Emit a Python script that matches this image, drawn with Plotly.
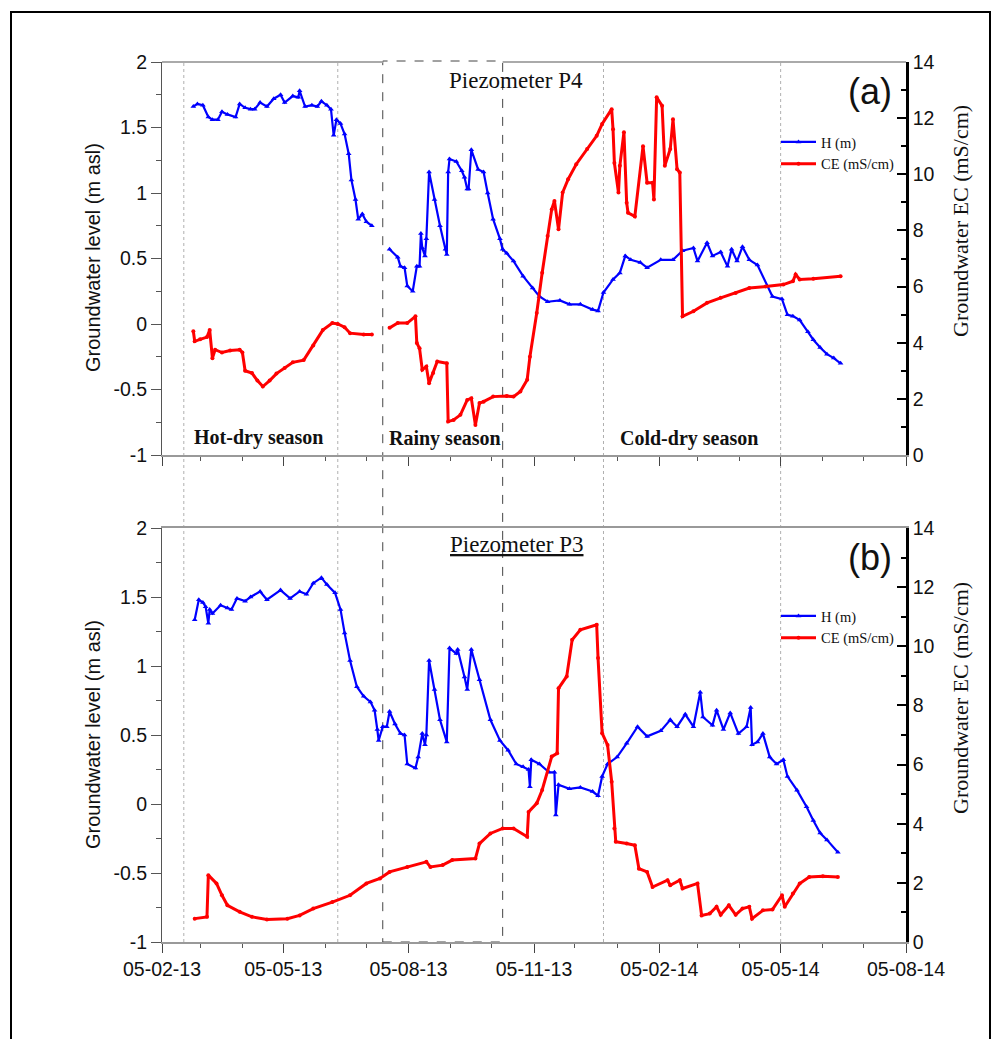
import plotly.graph_objects as go

# ---------------- data ----------------
p4_h_dates = ["2013-02-28","2013-03-03","2013-03-07","2013-03-11","2013-03-14","2013-03-18","2013-03-21","2013-03-25","2013-03-31","2013-04-03",
              "2013-04-07","2013-04-11","2013-04-14","2013-04-18","2013-04-23","2013-04-28","2013-05-03","2013-05-06","2013-05-12","2013-05-16",
              "2013-05-17","2013-05-21","2013-05-26","2013-05-30","2013-06-02","2013-06-06","2013-06-09","2013-06-11","2013-06-13","2013-06-16",
              "2013-06-19","2013-06-22","2013-06-24","2013-06-27","2013-06-29","2013-07-02","2013-07-05","2013-07-09",
              "2013-07-15",
              "2013-07-22","2013-07-28","2013-07-30","2013-08-02","2013-08-04","2013-08-08","2013-08-11","2013-08-13","2013-08-14","2013-08-15",
              "2013-08-17","2013-08-18","2013-08-20","2013-08-24","2013-08-28","2013-09-01","2013-09-02","2013-09-03","2013-09-04","2013-09-09",
              "2013-09-13","2013-09-15","2013-09-17","2013-09-18","2013-09-20","2013-09-25","2013-09-29","2013-10-02","2013-10-06","2013-10-11",
              "2013-10-13","2013-10-16","2013-10-21","2013-10-28","2013-11-04","2013-11-09","2013-11-15","2013-11-24","2013-12-01","2013-12-09",
              "2013-12-18","2013-12-22","2013-12-26","2014-01-02","2014-01-07","2014-01-11","2014-01-15","2014-01-22","2014-01-27","2014-02-06",
              "2014-02-15","2014-02-22","2014-03-02","2014-03-05","2014-03-12","2014-03-16","2014-03-22","2014-03-27","2014-03-30","2014-04-03",
              "2014-04-07","2014-04-12","2014-04-18","2014-04-25","2014-04-29","2014-05-06","2014-05-10","2014-05-14","2014-05-19","2014-05-25",
              "2014-05-29","2014-06-03","2014-06-08","2014-06-13","2014-06-18"]
p4_h_values = [1.66,1.68,1.67,1.58,1.56,1.56,1.62,1.60,1.58,1.68,
               1.65,1.64,1.64,1.69,1.66,1.72,1.75,1.69,1.74,1.73,
               1.78,1.66,1.67,1.66,1.70,1.67,1.64,1.44,1.56,1.53,
               1.45,1.30,1.10,0.95,0.80,0.84,0.78,0.75,
               None,
               0.57,0.51,0.44,0.43,0.29,0.25,0.44,0.44,0.69,0.58,
               0.52,0.65,1.16,0.95,0.75,0.57,0.53,1.16,1.26,1.24,
               1.17,1.12,1.03,1.03,1.33,1.18,1.16,1.00,0.80,0.65,
               0.57,0.54,0.48,0.365,0.275,0.21,0.17,0.18,0.15,0.15,
               0.11,0.10,0.24,0.34,0.39,0.52,0.49,0.47,0.43,0.49,
               0.49,0.56,0.58,0.48,0.62,0.52,0.55,0.44,0.57,0.48,
               0.59,0.49,0.45,0.29,0.21,0.19,0.07,0.06,0.03,-0.06,
               -0.12,-0.18,-0.23,-0.26,-0.30]

p4_ce_dates = ["2013-02-28","2013-03-01","2013-03-05","2013-03-10","2013-03-12","2013-03-14","2013-03-16","2013-03-21","2013-03-27","2013-04-03",
               "2013-04-05","2013-04-07","2013-04-12","2013-04-16","2013-04-20","2013-04-25","2013-04-30","2013-05-06","2013-05-12","2013-05-20",
               "2013-05-27","2013-06-03","2013-06-10","2013-06-14","2013-06-19","2013-06-23","2013-07-03","2013-07-09",
               "2013-07-15",
               "2013-07-22","2013-07-28","2013-08-04","2013-08-10","2013-08-11","2013-08-13","2013-08-15","2013-08-18","2013-08-20","2013-08-23",
               "2013-08-26","2013-09-02","2013-09-03","2013-09-07","2013-09-12","2013-09-17","2013-09-20","2013-09-23","2013-09-26","2013-09-29",
               "2013-10-06","2013-10-16","2013-10-21","2013-10-26","2013-10-31","2013-11-02","2013-11-07","2013-11-11","2013-11-15","2013-11-18",
               "2013-11-20","2013-11-23","2013-11-26","2013-11-30","2013-12-06","2013-12-14","2013-12-21","2013-12-25","2014-01-01","2014-01-02",
               "2014-01-03","2014-01-06","2014-01-07","2014-01-10","2014-01-12","2014-01-13","2014-01-18","2014-01-24","2014-01-27","2014-01-31",
               "2014-02-01","2014-02-03","2014-02-07","2014-02-09","2014-02-13","2014-02-15","2014-02-18","2014-02-20","2014-02-22","2014-03-02",
               "2014-03-12","2014-03-22","2014-04-02","2014-04-12","2014-04-24","2014-05-07","2014-05-14","2014-05-16","2014-05-19","2014-05-29",
               "2014-06-18"]
p4_ce_values = [4.41,4.05,4.12,4.20,4.45,3.45,3.75,3.65,3.72,3.75,
                3.65,3.00,2.92,2.65,2.44,2.65,2.90,3.10,3.30,3.38,
                3.90,4.45,4.70,4.67,4.55,4.34,4.29,4.29,
                None,
                4.53,4.70,4.70,4.94,3.99,3.80,3.04,3.15,2.56,2.92,
                3.33,3.27,1.19,1.25,1.43,1.96,2.02,1.07,1.85,1.90,
                2.08,2.10,2.08,2.26,2.68,3.50,5.06,6.49,7.80,8.75,
                9.05,8.04,9.35,9.82,10.36,10.90,11.37,11.79,12.32,11.60,
                10.40,9.35,10.30,11.50,8.99,8.63,8.50,11.00,9.70,9.70,
                9.10,12.74,12.44,10.30,10.90,11.96,10.18,10.06,4.94,5.12,
                5.42,5.60,5.77,5.95,6.00,6.07,6.19,6.43,6.25,6.28,
                6.37]

p3_h_dates = ["2013-03-01","2013-03-04","2013-03-07","2013-03-09","2013-03-11","2013-03-12","2013-03-14","2013-03-20","2013-03-25","2013-03-28",
              "2013-04-01","2013-04-07","2013-04-11","2013-04-18","2013-04-23","2013-05-03","2013-05-10","2013-05-17","2013-05-22","2013-05-27",
              "2013-06-02","2013-06-06","2013-06-12","2013-06-16","2013-06-19","2013-06-23","2013-06-28","2013-07-03","2013-07-08","2013-07-11",
              "2013-07-13","2013-07-14","2013-07-17","2013-07-20","2013-07-22","2013-07-26","2013-07-30","2013-08-02","2013-08-04","2013-08-10",
              "2013-08-12","2013-08-15","2013-08-17","2013-08-18","2013-08-20","2013-08-24","2013-08-28","2013-09-02","2013-09-04","2013-09-09",
              "2013-09-10","2013-09-15","2013-09-17","2013-09-20","2013-09-26","2013-10-04","2013-10-11","2013-10-17","2013-10-23","2013-10-28",
              "2013-11-01","2013-11-02","2013-11-03","2013-11-09","2013-11-16","2013-11-20","2013-11-21","2013-11-23","2013-12-01","2013-12-09",
              "2013-12-18","2013-12-22","2013-12-25","2013-12-29","2014-01-05","2014-01-12","2014-01-20","2014-01-27","2014-02-06","2014-02-13",
              "2014-02-18","2014-02-24","2014-03-02","2014-03-07","2014-03-09","2014-03-16","2014-03-19","2014-03-24","2014-03-29","2014-04-04",
              "2014-04-10","2014-04-13","2014-04-14","2014-04-18","2014-04-22","2014-04-27","2014-05-02","2014-05-07","2014-05-10","2014-05-17",
              "2014-05-24","2014-05-29","2014-06-03","2014-06-08","2014-06-16"]
p3_h_values = [1.335,1.48,1.46,1.43,1.31,1.41,1.38,1.44,1.42,1.41,
               1.49,1.47,1.50,1.54,1.48,1.55,1.49,1.54,1.52,1.60,
               1.64,1.59,1.53,1.41,1.24,1.04,0.85,0.78,0.74,0.68,
               0.54,0.46,0.56,0.56,0.67,0.58,0.51,0.50,0.29,0.26,
               0.34,0.51,0.43,0.50,1.04,0.83,0.61,0.45,1.13,1.09,
               1.12,0.92,0.83,1.12,0.90,0.61,0.46,0.39,0.29,0.27,
               0.25,0.125,0.32,0.29,0.23,0.23,-0.08,0.14,0.11,0.12,
               0.09,0.06,0.20,0.29,0.34,0.44,0.56,0.49,0.53,0.61,
               0.56,0.65,0.56,0.81,0.63,0.57,0.68,0.54,0.66,0.51,
               0.56,0.70,0.43,0.45,0.51,0.34,0.29,0.32,0.20,0.10,
               -0.02,-0.12,-0.21,-0.26,-0.35]

p3_ce_dates = ["2013-03-01","2013-03-10","2013-03-11","2013-03-17","2013-03-21","2013-03-25","2013-04-03","2013-04-12","2013-04-23","2013-05-08",
               "2013-05-17","2013-05-27","2013-06-10","2013-06-23","2013-07-05","2013-07-15","2013-07-22","2013-08-04","2013-08-18","2013-08-21",
               "2013-08-30","2013-09-06","2013-09-23","2013-09-26","2013-10-04","2013-10-13","2013-10-21","2013-10-31","2013-11-01","2013-11-07",
               "2013-11-11","2013-11-18","2013-11-22","2013-11-23","2013-11-29","2013-12-03","2013-12-09","2013-12-21","2013-12-22","2013-12-25",
               "2013-12-29","2014-01-01","2014-01-03","2014-01-04","2014-01-12","2014-01-18","2014-01-21","2014-01-27","2014-01-31","2014-02-11",
               "2014-02-13","2014-02-20","2014-02-22","2014-03-05","2014-03-08","2014-03-14","2014-03-19","2014-03-22","2014-03-28","2014-04-02",
               "2014-04-07","2014-04-12","2014-04-14","2014-04-22","2014-04-29","2014-05-06","2014-05-08","2014-05-14","2014-05-19","2014-05-26",
               "2014-06-05","2014-06-16"]
p3_ce_values = [0.79,0.85,2.26,1.98,1.58,1.24,1.02,0.85,0.76,0.79,
                0.90,1.13,1.35,1.58,1.98,2.15,2.37,2.54,2.71,2.54,
                2.60,2.77,2.82,3.33,3.67,3.84,3.84,3.56,4.40,4.69,
                5.14,6.27,6.38,8.58,8.98,10.22,10.56,10.73,9.60,7.06,
                6.66,5.42,3.84,3.39,3.33,3.27,2.48,2.37,1.86,2.09,
                1.92,2.09,1.81,1.98,0.90,0.96,1.19,0.92,1.24,0.92,
                1.13,1.19,0.79,1.07,1.10,1.58,1.19,1.64,1.98,2.20,
                2.22,2.20]

x_range = ["2013-02-05", "2014-08-05"]
h_tickvals = [-1, -0.5, 0, 0.5, 1, 1.5, 2]
h_ticktext = ["-1", "-0.5", "0", "0.5", "1", "1.5", "2"]
ec_tickvals = [0, 2, 4, 6, 8, 10, 12, 14]
ec_ticktext = ["0", "2", "4", "6", "8", "10", "12", "14"]
season_lines = ["2013-02-21", "2013-06-14", "2013-12-26", "2014-05-05"]
rainy_box = ["2013-07-17", "2013-10-13"]

# ---------------- layout helpers ----------------
W, H = 992, 1039
L, R, T, B = 162, 906, 62, 942


def pxx(px):
    return (px - L) / (R - L)


def pxy(py):
    return (B - py) / (B - T)


top_dom = [pxy(455), 1.0]
bot_dom = [0.0, pxy(528)]

BLUE = "#0000ff"
RED = "#ff0000"
SANS = "Liberation Sans"
SERIF = "Liberation Serif"

fig = go.Figure()


def add_pair(hd, hv, cd, cv, xa, ya, ya2, leg):
    fig.add_trace(go.Scatter(x=hd, y=hv, name="H (m)", mode="lines+markers",
                             line=dict(color=BLUE, width=2.2),
                             marker=dict(symbol="triangle-up", size=5, color=BLUE),
                             xaxis=xa, yaxis=ya, legend=leg, connectgaps=False))
    fig.add_trace(go.Scatter(x=cd, y=cv, name="CE (mS/cm)", mode="lines+markers",
                             line=dict(color=RED, width=3),
                             marker=dict(symbol="circle", size=4, color=RED),
                             xaxis=xa, yaxis=ya2, legend=leg, connectgaps=False))


add_pair(p4_h_dates, p4_h_values, p4_ce_dates, p4_ce_values, "x", "y", "y2", "legend")
add_pair(p3_h_dates, p3_h_values, p3_ce_dates, p3_ce_values, "x2", "y3", "y4", "legend2")

tickfont = dict(family=SANS, size=19.5, color="#111")

xcommon = dict(type="date", range=x_range, tick0=x_range[0], dtick="M3", tickformat="%d-%m-%y",
               ticks="outside", ticklen=9, tickwidth=1.3, tickcolor="#444",
               showline=True, linecolor="#999", linewidth=2, showgrid=False, zeroline=False,
               minor=dict(tick0=x_range[0], dtick="M1", ticks="outside", ticklen=4, tickwidth=1,
                          tickcolor="#555", showgrid=False),
               tickfont=tickfont)

yleft = dict(range=[-1, 2], tickmode="array", tickvals=h_tickvals, ticktext=h_ticktext,
             ticks="outside", ticklen=10, tickwidth=1.2, tickcolor="#555",
             showline=True, linecolor="#555", linewidth=1, showgrid=False, zeroline=False,
             minor=dict(tickmode="linear", tick0=0, dtick=0.25, ticks="outside", ticklen=5,
                        tickwidth=1, tickcolor="#555", showgrid=False),
             tickfont=tickfont)

yright = dict(range=[0, 14], tickmode="array", tickvals=ec_tickvals, ticktext=ec_ticktext,
              side="right", ticks="inside", ticklen=9, tickwidth=2, tickcolor="#000",
              showline=True, linecolor="#000", linewidth=2.5, showgrid=False, zeroline=False,
              minor=dict(tickmode="linear", tick0=0, dtick=1, ticks="inside", ticklen=5,
                         tickwidth=2, tickcolor="#000", showgrid=False),
              tickfont=tickfont)

fig.update_layout(
    width=W, height=H,
    margin=dict(l=L, r=W - R, t=T, b=H - B, pad=0),
    paper_bgcolor="white", plot_bgcolor="rgba(0,0,0,0)",
    showlegend=True,
    xaxis=dict(xcommon, domain=[0, 1], anchor="y", showticklabels=False),
    yaxis=dict(yleft, domain=top_dom, anchor="x"),
    yaxis2=dict(yright, overlaying="y", anchor="x"),
    xaxis2=dict(xcommon, domain=[0, 1], anchor="y3", mirror=True),
    yaxis3=dict(yleft, domain=bot_dom, anchor="x2"),
    yaxis4=dict(yright, overlaying="y3", anchor="x2"),
    legend=dict(x=pxx(776), y=pxy(126), xanchor="left", yanchor="top",
                font=dict(family=SERIF, size=14.5, color="#111"), bgcolor="rgba(0,0,0,0)",
                itemwidth=35, tracegroupgap=0),
    legend2=dict(x=pxx(776), y=pxy(600), xanchor="left", yanchor="top",
                 font=dict(family=SERIF, size=14.5, color="#111"), bgcolor="rgba(0,0,0,0)",
                 itemwidth=35, tracegroupgap=0),
)

shapes = []
# season separators (dotted, light grey) through both panels
for d in season_lines:
    shapes.append(dict(type="line", xref="x", yref="paper", x0=d, x1=d, y0=0, y1=1,
                       line=dict(color="#b0b0b0", width=1, dash="dot"), layer="below"))
# rainy season dashed box
shapes.append(dict(type="rect", xref="x", yref="paper", x0=rainy_box[0], x1=rainy_box[1],
                   y0=0, y1=pxy(61), line=dict(color="#444", width=1, dash="dash"), layer="below"))
# top border of upper panel (interrupted by the dashed box)
shapes.append(dict(type="line", xref="x", yref="paper", x0=x_range[0], x1=rainy_box[0], y0=1, y1=1,
                   line=dict(color="#aaa", width=2), layer="below"))
shapes.append(dict(type="line", xref="x", yref="paper", x0=rainy_box[1], x1=x_range[1], y0=1, y1=1,
                   line=dict(color="#aaa", width=2), layer="below"))
# outer figure frame
shapes.append(dict(type="rect", xref="paper", yref="paper", x0=pxx(11), x1=pxx(990),
                   y0=pxy(1070), y1=pxy(12), line=dict(color="#000", width=2)))
fig.update_layout(shapes=shapes)

ann = []


def text(s, px, py, family, size, angle=0):
    ann.append(dict(text=s, x=pxx(px), y=pxy(py), xref="paper", yref="paper",
                    xanchor="center", yanchor="middle", showarrow=False, textangle=angle,
                    font=dict(family=family, size=size, color="#111")))


text("Piezometer P4", 516, 80, SERIF, 23)
text("(a)", 870, 92, SANS, 36)
text("<b>Hot-dry season</b>", 258, 437, SERIF, 20)
text("<b>Rainy season</b>", 445, 438, SERIF, 20)
text("<b>Cold-dry season</b>", 689, 438, SERIF, 20)
text("<u>Piezometer P3</u>", 517, 544, SERIF, 23)
text("(b)", 870, 557, SANS, 36)
text("Groundwater level (m asl)", 93, 258, SANS, 20, -90)
text("Groundwater level (m asl)", 93, 735, SANS, 20, -90)
text("Groundwater EC (mS/cm)", 960, 221, SERIF, 22, -90)
text("Groundwater EC (mS/cm)", 960, 698, SERIF, 22, -90)
fig.update_layout(annotations=ann)

fig.write_html("out.html")
